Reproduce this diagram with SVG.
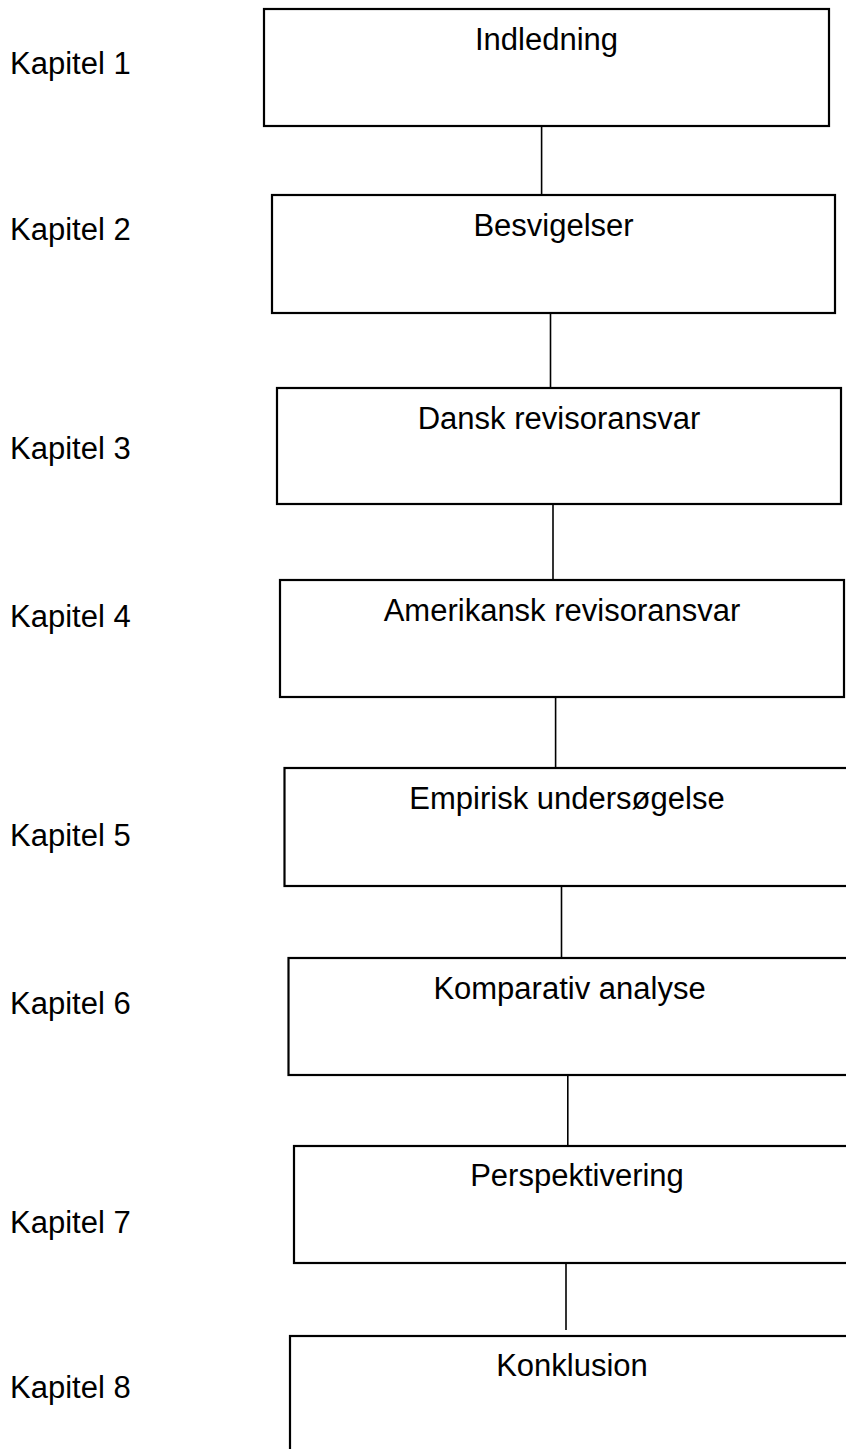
<svg xmlns="http://www.w3.org/2000/svg" width="846" height="1449" viewBox="0 0 846 1449">
<style>
.box{fill:#fff;stroke:#000;stroke-width:2.2}
.t{font-family:"Liberation Sans",Arial,sans-serif;font-size:31px;fill:#000}
.c{text-anchor:middle}
.conn line{stroke:#000;stroke-width:1.6}
</style>
<rect width="846" height="1449" fill="#fff"/>
<g id="labels">
<text class="t" x="10" y="74">Kapitel 1</text>
<text class="t" x="10" y="240">Kapitel 2</text>
<text class="t" x="10" y="459">Kapitel 3</text>
<text class="t" x="10" y="627">Kapitel 4</text>
<text class="t" x="10" y="846">Kapitel 5</text>
<text class="t" x="10" y="1014">Kapitel 6</text>
<text class="t" x="10" y="1233">Kapitel 7</text>
<text class="t" x="10" y="1398">Kapitel 8</text>
</g>
<g id="connectors" class="conn">
<line x1="541.6" y1="127" x2="541.6" y2="195"/>
<line x1="550.5" y1="313" x2="550.5" y2="388"/>
<line x1="553" y1="504" x2="553" y2="580"/>
<line x1="555.6" y1="697" x2="555.6" y2="768"/>
<line x1="561.5" y1="886" x2="561.5" y2="958"/>
<line x1="567.8" y1="1075" x2="567.8" y2="1146"/>
<line x1="566" y1="1261" x2="566" y2="1330"/>
</g>
<g id="n1"><rect class="box" x="264" y="9" width="565" height="117"/><text class="t c" x="546.5" y="50">Indledning</text></g>
<g id="n2"><rect class="box" x="272" y="195" width="563" height="118"/><text class="t c" x="553.5" y="236">Besvigelser</text></g>
<g id="n3"><rect class="box" x="277" y="388" width="564" height="116"/><text class="t c" x="559" y="429">Dansk revisoransvar</text></g>
<g id="n4"><rect class="box" x="280" y="580" width="564" height="117"/><text class="t c" x="562" y="621">Amerikansk revisoransvar</text></g>
<g id="n5"><rect class="box" x="284.5" y="768" width="566" height="118"/><text class="t c" x="567" y="809">Empirisk undersøgelse</text></g>
<g id="n6"><rect class="box" x="288.5" y="958" width="562" height="117"/><text class="t c" x="569.5" y="999">Komparativ analyse</text></g>
<g id="n7"><rect class="box" x="294" y="1146" width="566" height="117"/><text class="t c" x="577" y="1186">Perspektivering</text></g>
<g id="n8"><rect class="box" x="290" y="1336" width="564" height="130"/><text class="t c" x="572" y="1376">Konklusion</text></g>
</svg>
